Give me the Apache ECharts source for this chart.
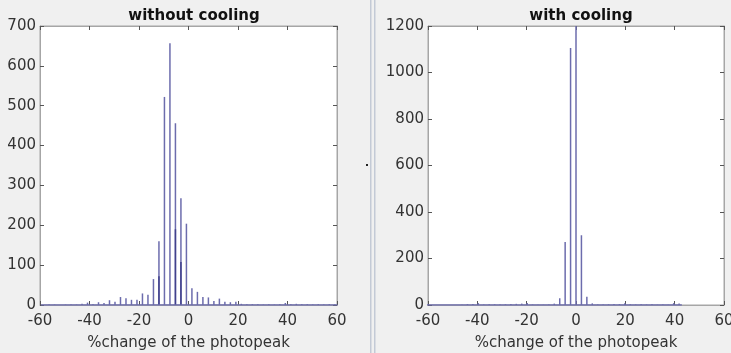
<!DOCTYPE html>
<html>
<head>
<meta charset="utf-8">
<script src="https://cdn.jsdelivr.net/npm/echarts@6/dist/echarts.min.js"></script>
<style>
  html, body { margin: 0; padding: 0; background: #f0f0f0; }
  #chart { width: 731px; height: 353px; }
</style>
</head>
<body>
<div id="chart"></div>
<script>
// Histogram of the photopeak shift (percent), without and with detector cooling.

// Without cooling: first bin centre and bin width, then counts per bin
const leftFirstCenter = -58.56;
const leftBinWidth = 2.22;
const leftCounts = [
  0, 1, 1, 0, 1, 1, 1, 3, 6, 2,
  7, 5, 12, 8, 20, 17, 13, 13, 29, 26,
  65, 160, 522, 657, 456, 268, 204, 42, 33, 20,
  19, 10, 16, 8, 7, 8, 3, 2, 2, 2,
  1, 2, 1, 2, 5, 2, 3, 2, 2, 1,
  2, 1, 2, 1
];
// Second overlapping histogram visible inside three of the bins (bin index -> count)
const leftOverlapBins = [21, 24, 25];
const leftOverlapCounts = [72, 190, 108];

// With cooling
const rightFirstCenter = -59.4;
const rightBinWidth = 2.2;
const rightCounts = [
  0, 0, 0, 0, 0, 0, 1, 4, 4, 8,
  2, 3, 3, 2, 3, 4, 5, 6, 9, 2,
  1, 1, 2, 6, 29, 271, 1105, 1200, 300, 36,
  7, 2, 2, 3, 4, 4, 8, 3, 2, 3,
  2, 3, 1, 2, 1, 8, 6
];

const xTicks = [-60, -40, -20, 0, 20, 40, 60];
const leftYMax = 700, leftYStep = 100;
const rightYMax = 1200, rightYStep = 200;

const titles = ['without cooling', 'with cooling'];
const xName = '%change of the photopeak';

function binData(first, width, counts) {
  return counts.map((c, i) => [first + i * width, c]);
}
function baseline(first, width, counts) {
  const lo = first - width / 2;
  const hi = first + (counts.length - 1) * width + width / 2;
  return [[lo, 0], [hi, 0]];
}

const FONT = 'DejaVu Sans';
const FRAME = '#a6a6a6';
const TXT = '#333333';
const BAR = '#6c6cad';
const BAR_DARK = '#40408c';

const grids = [
  { left: 40, right: 394, top: 26, bottom: 48 },
  { left: 428, right: 7, top: 26, bottom: 48 }
];

const plain = v => String(v);

function xAxisPair(gi) {
  const common = {
    type: 'value', gridIndex: gi, min: xTicks[0], max: xTicks[xTicks.length - 1], interval: 20,
    axisLine: { show: true, onZero: false, lineStyle: { color: FRAME, width: 1 } },
    axisTick: { show: true, inside: true, length: 4, lineStyle: { color: '#555' } },
    splitLine: { show: false }
  };
  return [
    Object.assign({}, common, {
      position: 'bottom',
      axisLabel: { color: TXT, fontFamily: FONT, fontSize: 15, margin: 9, formatter: plain },
      name: xName, nameLocation: 'middle', nameGap: 31,
      nameTextStyle: { color: TXT, fontFamily: FONT, fontSize: 15 }
    }),
    Object.assign({}, common, { position: 'top', axisLabel: { show: false } })
  ];
}
function yAxisPair(gi, max, step) {
  const common = {
    type: 'value', gridIndex: gi, min: 0, max: max, interval: step,
    axisLine: { show: true, onZero: false, lineStyle: { color: FRAME, width: 1 } },
    axisTick: { show: true, inside: true, length: 4, lineStyle: { color: '#555' } },
    splitLine: { show: false }
  };
  return [
    Object.assign({}, common, {
      position: 'left',
      axisLabel: { color: TXT, fontFamily: FONT, fontSize: 15, margin: 4, formatter: plain }
    }),
    Object.assign({}, common, { position: 'right', axisLabel: { show: false } })
  ];
}

const chart = echarts.init(document.getElementById('chart'), null, { renderer: 'canvas' });

const option = {
  backgroundColor: '#f0f0f0',
  animation: false,
  title: [
    { text: titles[0], left: 189, top: 4, textAlign: 'center',
      textStyle: { fontFamily: FONT, fontSize: 15, fontWeight: 'bold', color: '#111' } },
    { text: titles[1], left: 576, top: 4, textAlign: 'center',
      textStyle: { fontFamily: FONT, fontSize: 15, fontWeight: 'bold', color: '#111' } }
  ],
  grid: grids.map(g => Object.assign({
    show: true, backgroundColor: '#ffffff', borderColor: FRAME, borderWidth: 1,
    containLabel: false, outerBoundsMode: 'none'
  }, g)),
  xAxis: [...xAxisPair(0), ...xAxisPair(1)],
  yAxis: [...yAxisPair(0, leftYMax, leftYStep), ...yAxisPair(1, rightYMax, rightYStep)],
  series: [
    { type: 'line', xAxisIndex: 0, yAxisIndex: 0, data: baseline(leftFirstCenter, leftBinWidth, leftCounts),
      symbol: 'none', lineStyle: { color: BAR, width: 1.6 }, z: 3 },
    { type: 'bar', xAxisIndex: 0, yAxisIndex: 0, barWidth: 1.5,
      data: binData(leftFirstCenter, leftBinWidth, leftCounts),
      itemStyle: { color: BAR } },
    { type: 'bar', xAxisIndex: 0, yAxisIndex: 0, barWidth: 1.5, barGap: '-100%',
      data: leftOverlapBins.map((b, k) => [leftFirstCenter + b * leftBinWidth, leftOverlapCounts[k]]),
      itemStyle: { color: BAR_DARK } },
    { type: 'line', xAxisIndex: 2, yAxisIndex: 2, data: baseline(rightFirstCenter, rightBinWidth, rightCounts),
      symbol: 'none', lineStyle: { color: BAR, width: 1.6 }, z: 3 },
    { type: 'bar', xAxisIndex: 2, yAxisIndex: 2, barWidth: 1.5,
      data: binData(rightFirstCenter, rightBinWidth, rightCounts),
      itemStyle: { color: BAR } }
  ],
  graphic: [
    // panel divider between the two figures
    { type: 'rect', left: 370, top: 0, shape: { width: 1.5, height: 353 }, style: { fill: '#c3cad6' } },
    { type: 'rect', left: 374, top: 0, shape: { width: 1.5, height: 353 }, style: { fill: '#c3cad6' } },
    { type: 'rect', left: 366, top: 164, shape: { width: 2, height: 2 }, style: { fill: '#222' } }
  ]
};

chart.setOption(option);
</script>
</body>
</html>
